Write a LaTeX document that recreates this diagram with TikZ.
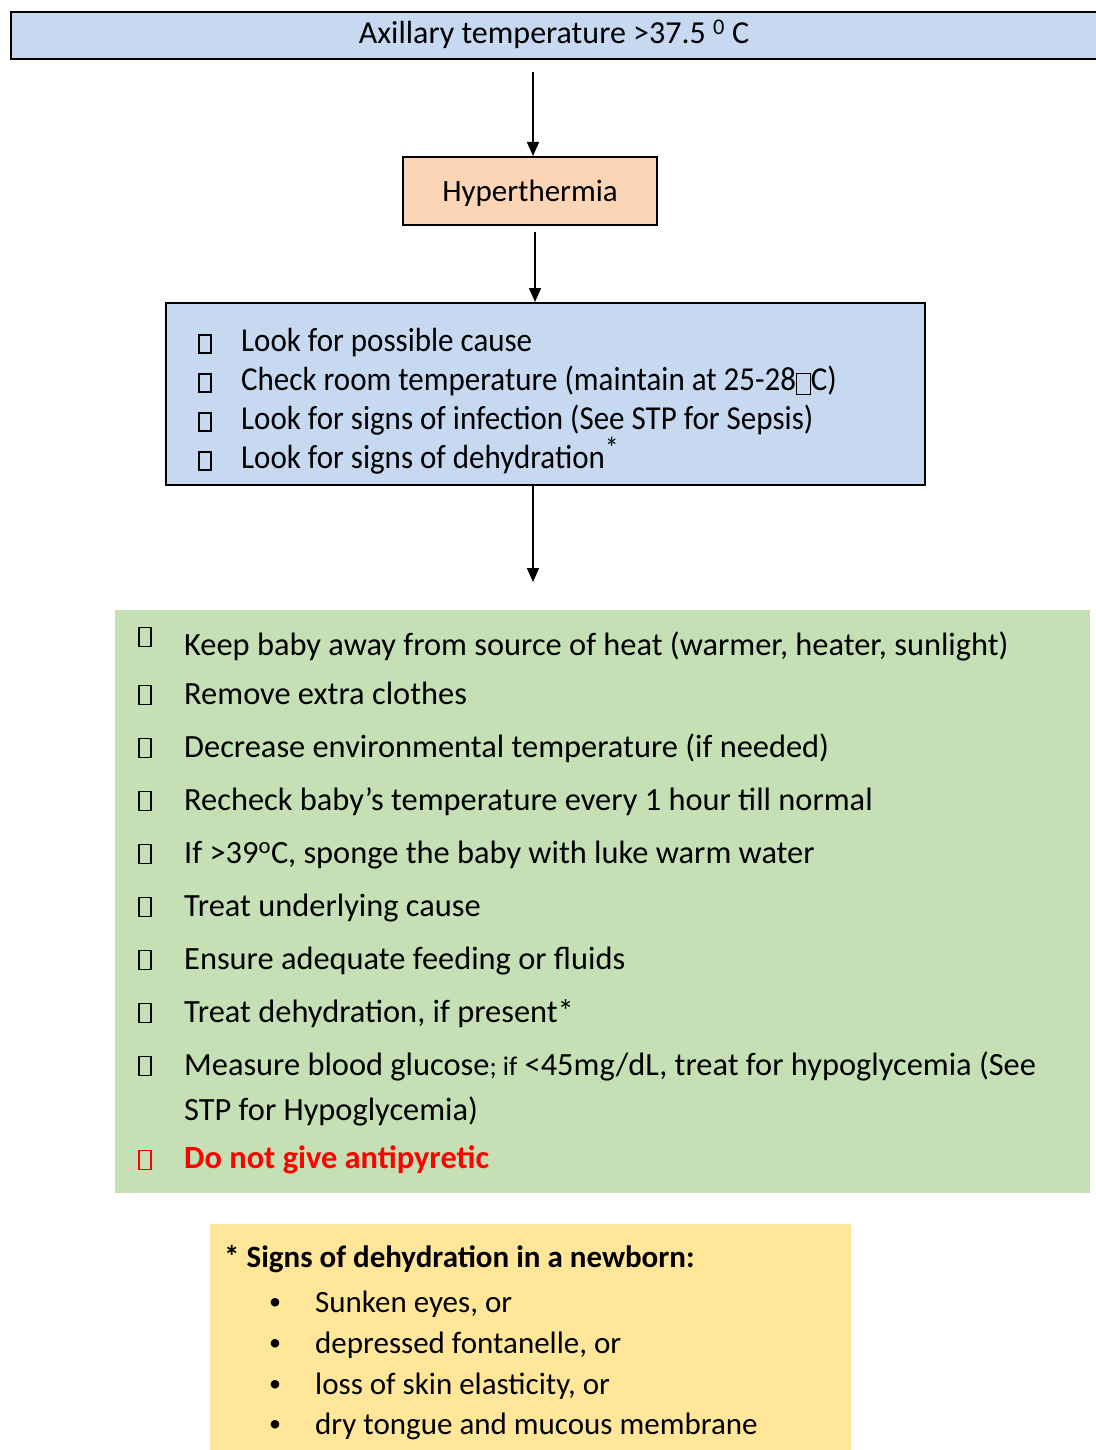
\documentclass[tikz,border=0pt]{standalone}
\usepackage{fontspec}
\setmainfont{Carlito}
\newfontfamily\talltext[FakeStretch=0.925]{Carlito}
\usetikzlibrary{arrows.meta}
\definecolor{boxblue}{RGB}{198,217,241}
\definecolor{boxpeach}{RGB}{251,213,181}
\definecolor{boxgreen}{RGB}{197,224,180}
\definecolor{boxyellow}{RGB}{255,230,153}
\definecolor{alertred}{RGB}{255,0,0}
% an empty glyph frame used inline in running text
\newcommand{\glyphbox}{{\setlength{\fboxsep}{0pt}\setlength{\fboxrule}{1.4pt}\raisebox{-0.12em}{\fbox{\rule{0pt}{0.6em}\hspace{0.36em}}}}}
\begin{document}
\begin{tikzpicture}[x=1pt,y=-1pt,
  panel/.style={rectangle, inner sep=0pt, anchor=north west},
  framed/.style={panel, draw=black, line width=1.6pt},
  chk/.style={draw, line width=1.6pt, minimum width=12pt, minimum height=18pt, inner sep=0pt},
  item/.style={anchor=base west, inner sep=0pt},
  arr/.style={line width=1.5pt, -{Triangle[length=14pt,width=12pt]}}]
\useasboundingbox (0,0) rectangle (1095,1450);

% boxes
\node[framed, fill=boxblue, minimum width=1090pt, minimum height=47pt] (top) at (10,11) {};
\node[anchor=base, inner sep=0pt, font=\fontsize{32}{36}\selectfont] (toptext) at (554,44) {Axillary temperature >37.5 \textsuperscript{0} C};

\node[framed, fill=boxpeach, minimum width=254pt, minimum height=68pt] (hyp) at (402,156) {};
\node[anchor=base, inner sep=0pt, font=\fontsize{31}{36}\selectfont] (hyptext) at (530,201) {Hyperthermia};

\node[framed, fill=boxblue, minimum width=759pt, minimum height=182pt] (assess) at (165,302) {};

\node[panel, fill=boxgreen, minimum width=975pt, minimum height=583pt] (manage) at (115,610) {};

\node[panel, fill=boxyellow, minimum width=641pt, minimum height=226pt] (signs) at (210,1224) {};

% connectors
\draw[arr, shorten <=12pt] (top.south -| 533,0) -- (hyp.north -| 533,0);
\draw[arr, shorten <=6pt] (hyp.south -| 535,0) -- (assess.north -| 535,0);
\draw[arr, shorten >=28pt] (assess.south -| 533,0) -- (manage.north -| 533,0);

% assessment list
\begin{scope}[every node/.append style={font=\talltext\fontsize{33.5}{36}\selectfont}]
\node[chk] (a1) at (205,344) {};
\node[chk] (a2) at (205,383) {};
\node[chk] (a3) at (205,422) {};
\node[chk] (a4) at (205,461) {};
\node[item] (t1) at (241,351) {Look for possible cause};
\node[item] (t2) at (241,390) {Check room temperature (maintain at 25-28\glyphbox C)};
\node[item] (t3) at (241,429) {Look for signs of infection (See STP for Sepsis)};
\node[item] (t4) at (241,468) {Look for signs of dehydration\textsuperscript{\fontsize{30}{30}\selectfont *}};
\end{scope}

% management list
\begin{scope}[every node/.append style={font=\fontsize{32.4}{36}\selectfont}]
\node[chk, minimum height=19pt] (m1) at (145,637) {};
\foreach \yy [count=\i from 2] in {695,748,801,854,907,960,1013,1066}
  \node[chk, minimum height=19pt] (m\i) at (145,\yy) {};
\node[chk, draw=alertred, minimum height=19pt] (m10) at (145,1160) {};
\node[item] (s1) at (184,655) {Keep baby away from source of heat (warmer, heater, sunlight)};
\node[item] (s2) at (184,704) {Remove extra clothes};
\node[item] (s3) at (184,757) {Decrease environmental temperature (if needed)};
\node[item] (s4) at (184,810) {Recheck baby’s temperature every 1 hour till normal};
\node[item] (s5) at (184,863) {If >39\textsuperscript{o}C, sponge the baby with luke warm water};
\node[item] (s6) at (184,916) {Treat underlying cause};
\node[item] (s7) at (184,969) {Ensure adequate feeding or fluids};
\node[item] (s8) at (184,1022) {Treat dehydration, if present*};
\node[item] (s9) at (184,1075) {Measure blood glucose{\fontsize{27}{30}\selectfont; if} <45mg/dL, treat for hypoglycemia (See};
\node[item] (s9b) at (184,1120) {STP for Hypoglycemia)};
\node[item, text=alertred, font=\fontsize{32.4}{36}\selectfont\bfseries] (s10) at (184,1168) {Do not give antipyretic};
\end{scope}

% dehydration signs
\begin{scope}[every node/.append style={font=\fontsize{31}{34}\selectfont}]
\node[item, font=\fontsize{31}{34}\selectfont\bfseries] (h0) at (224,1267) {* Signs of dehydration in a newborn:};
\foreach \yy/\txt [count=\i] in {1312/{Sunken eyes, or},1353/{depressed fontanelle, or},1394/{loss of skin elasticity, or},1434/{dry tongue and mucous membrane}}{
  \node[item, font=\fontsize{24}{28}\selectfont] (b\i) at (269,\yy-3) {•};
  \node[item] (h\i) at (315,\yy) {\txt};
}
\end{scope}
\end{tikzpicture}
\end{document}
